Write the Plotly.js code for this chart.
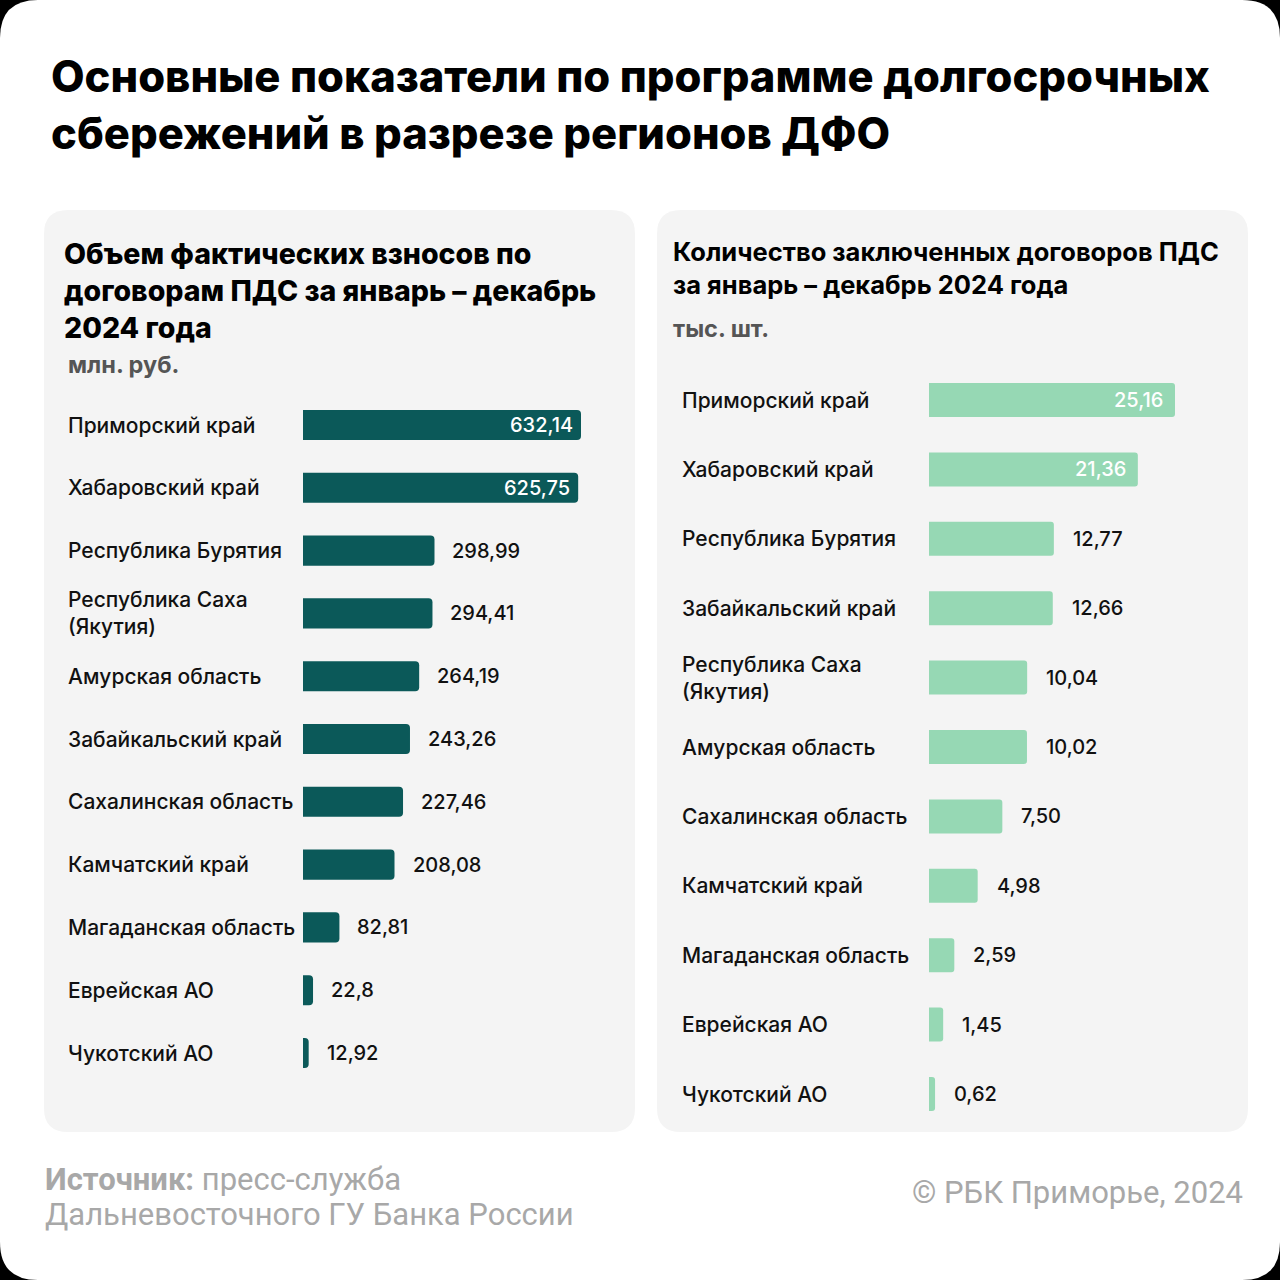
<!DOCTYPE html>
<html>
<head>
<meta charset="utf-8">
<script src="https://cdn.plot.ly/plotly-3.0.1.min.js"></script>
<style>
html,body{margin:0;padding:0;background:#000;}
#chart{width:1280px;height:1280px;}
</style>
</head>
<body>
<div id="chart"></div>
<script>
// ---------- DATA ----------
const leftCategories = [
  'Приморский край', 'Хабаровский край', 'Республика Бурятия', 'Республика Саха (Якутия)',
  'Амурская область', 'Забайкальский край', 'Сахалинская область', 'Камчатский край',
  'Магаданская область', 'Еврейская АО', 'Чукотский АО'
];
const leftValues = [632.14, 625.75, 298.99, 294.41, 264.19, 243.26, 227.46, 208.08, 82.81, 22.8, 12.92];

const rightCategories = [
  'Приморский край', 'Хабаровский край', 'Республика Бурятия', 'Забайкальский край',
  'Республика Саха (Якутия)', 'Амурская область', 'Сахалинская область', 'Камчатский край',
  'Магаданская область', 'Еврейская АО', 'Чукотский АО'
];
const rightValues = [25.16, 21.36, 12.77, 12.66, 10.04, 10.02, 7.50, 4.98, 2.59, 1.45, 0.62];

const mainTitle = 'Основные показатели по программе долгосрочных<br>сбережений в разрезе регионов ДФО';
const leftTitle = 'Объем фактических взносов по<br>договорам ПДС за январь – декабрь<br>2024 года';
const leftUnit = 'млн. руб.';
const rightTitle = 'Количество заключенных договоров ПДС<br>за январь – декабрь 2024 года';
const rightUnit = 'тыс. шт.';
const sourceLine1 = '<b>Источник:</b> пресс-служба';
const sourceLine2 = 'Дальневосточного ГУ Банка России';
const copyrightText = '© РБК Приморье, 2024';

// ---------- HELPERS ----------
const W = 1280, H = 1280;
const px = v => v / W;
const py = v => 1 - v / H;
function roundRect(x0, y0, x1, y1, r) {
  const X0 = px(x0), X1 = px(x1), Y0 = py(y0), Y1 = py(y1), rx = px(r), ry = r / H;
  return `M ${X0 + rx},${Y0} L ${X1 - rx},${Y0} Q ${X1},${Y0} ${X1},${Y0 - ry} ` +
         `L ${X1},${Y1 + ry} Q ${X1},${Y1} ${X1 - rx},${Y1} ` +
         `L ${X0 + rx},${Y1} Q ${X0},${Y1} ${X0},${Y1 + ry} ` +
         `L ${X0},${Y0 - ry} Q ${X0},${Y0} ${X0 + rx},${Y0} Z`;
}
const fmtLeft = v => String(v).replace('.', ',');
const fmtRight = v => v.toFixed(2).replace('.', ',');
const labelText = c => c.replace(' (', '<br>(');

const FONT = 'Inter, "Noto Sans", sans-serif';
const darkTeal = '#0b5959';
const mint = '#96d8b4';

// ---------- TRACES ----------
const traces = [
  {
    type: 'bar', orientation: 'h',
    x: leftValues, y: leftCategories,
    xaxis: 'x', yaxis: 'y',
    width: 0.48,
    marker: {color: darkTeal, cornerradius: 4},
    hoverinfo: 'skip'
  },
  {
    type: 'bar', orientation: 'h',
    x: rightValues, y: rightCategories,
    xaxis: 'x2', yaxis: 'y2',
    width: 0.49,
    marker: {color: mint, cornerradius: 3},
    hoverinfo: 'skip'
  }
];

// ---------- ANNOTATIONS ----------
const ann = [];
ann.push({text: mainTitle, xref: 'paper', yref: 'paper', x: px(49), y: py(104),
  xanchor: 'left', yanchor: 'middle', align: 'left', showarrow: false,
  font: {family: FONT, size: 43.5, weight: 800, color: '#000'}});
ann.push({text: leftTitle, xref: 'paper', yref: 'paper', x: px(62), y: py(290),
  xanchor: 'left', yanchor: 'middle', align: 'left', showarrow: false,
  font: {family: FONT, size: 28.5, weight: 800, color: '#000'}});
ann.push({text: leftUnit, xref: 'paper', yref: 'paper', x: px(66), y: py(364),
  xanchor: 'left', yanchor: 'middle', align: 'left', showarrow: false,
  font: {family: FONT, size: 23.5, weight: 700, color: '#555'}});
ann.push({text: rightTitle, xref: 'paper', yref: 'paper', x: px(671), y: py(267.5),
  xanchor: 'left', yanchor: 'middle', align: 'left', showarrow: false,
  font: {family: FONT, size: 25.5, weight: 700, color: '#000'}});
ann.push({text: rightUnit, xref: 'paper', yref: 'paper', x: px(671), y: py(328),
  xanchor: 'left', yanchor: 'middle', align: 'left', showarrow: false,
  font: {family: FONT, size: 23.5, weight: 700, color: '#555'}});
ann.push({text: sourceLine1, xref: 'paper', yref: 'paper', x: px(43), y: py(1179),
  xanchor: 'left', yanchor: 'middle', align: 'left', showarrow: false,
  font: {family: 'Roboto, sans-serif', size: 31, color: '#a8a8a8'}});
ann.push({text: sourceLine2, xref: 'paper', yref: 'paper', x: px(43), y: py(1214),
  xanchor: 'left', yanchor: 'middle', align: 'left', showarrow: false,
  font: {family: 'Roboto, sans-serif', size: 31, color: '#a8a8a8'}});
ann.push({text: copyrightText, xref: 'paper', yref: 'paper', x: px(1245), y: py(1192),
  xanchor: 'right', yanchor: 'middle', align: 'right', showarrow: false,
  font: {family: 'Roboto, sans-serif', size: 31, color: '#a8a8a8'}});

function addPanel(cats, vals, xr, yr, labelX, fmt, inShift, outShift) {
  const maxV = Math.max(...vals);
  cats.forEach((c, i) => {
    ann.push({text: labelText(c), xref: 'paper', yref: yr, x: px(labelX), y: i,
      xanchor: 'left', yanchor: 'middle', align: 'left', showarrow: false,
      font: {family: FONT, size: 21, weight: 500, color: '#111'}});
    const inside = vals[i] >= 0.6 * maxV;
    ann.push({text: fmt(vals[i]), xref: xr, yref: yr, x: vals[i], y: i,
      xanchor: inside ? 'right' : 'left', xshift: inside ? inShift : outShift,
      yanchor: 'middle', showarrow: false,
      font: {family: FONT, size: 20, weight: 500, color: inside ? '#fff' : '#111'}});
  });
}
addPanel(leftCategories, leftValues, 'x', 'y', 66, fmtLeft, -6, 16);
addPanel(rightCategories, rightValues, 'x2', 'y2', 680, fmtRight, -10, 17);

// ---------- LAYOUT ----------
const hiddenAxis = {showgrid: false, zeroline: false, showticklabels: false, showline: false, ticks: '', fixedrange: true};
const layout = {
  width: W, height: H,
  margin: {l: 0, r: 0, t: 0, b: 0, pad: 0},
  paper_bgcolor: '#000', plot_bgcolor: 'rgba(0,0,0,0)',
  showlegend: false, hovermode: false,
  xaxis: Object.assign({}, hiddenAxis, {domain: [px(303), px(625)], range: [0, 322 / (278 / 632.14)], anchor: 'y'}),
  yaxis: Object.assign({}, hiddenAxis, {domain: [py(1084.4), py(393.6)], type: 'category', range: [10.5, -0.5], anchor: 'x'}),
  xaxis2: Object.assign({}, hiddenAxis, {domain: [px(929), px(1240)], range: [0, 311 / (246 / 25.16)], anchor: 'y2'}),
  yaxis2: Object.assign({}, hiddenAxis, {domain: [py(1128.7), py(365.3)], type: 'category', range: [10.5, -0.5], anchor: 'x2'}),
  shapes: [
    {type: 'path', xref: 'paper', yref: 'paper', path: roundRect(0, 0, 1280, 1280, 38), fillcolor: '#fff', line: {width: 0}, layer: 'below'},
    {type: 'path', xref: 'paper', yref: 'paper', path: roundRect(44, 210, 635, 1132, 24), fillcolor: '#f4f4f4', line: {width: 0}, layer: 'below'},
    {type: 'path', xref: 'paper', yref: 'paper', path: roundRect(657, 210, 1248, 1132, 24), fillcolor: '#f4f4f4', line: {width: 0}, layer: 'below'}
  ],
  annotations: ann
};

Plotly.newPlot('chart', traces, layout, {displayModeBar: false, staticPlot: true});
</script>
</body>
</html>
